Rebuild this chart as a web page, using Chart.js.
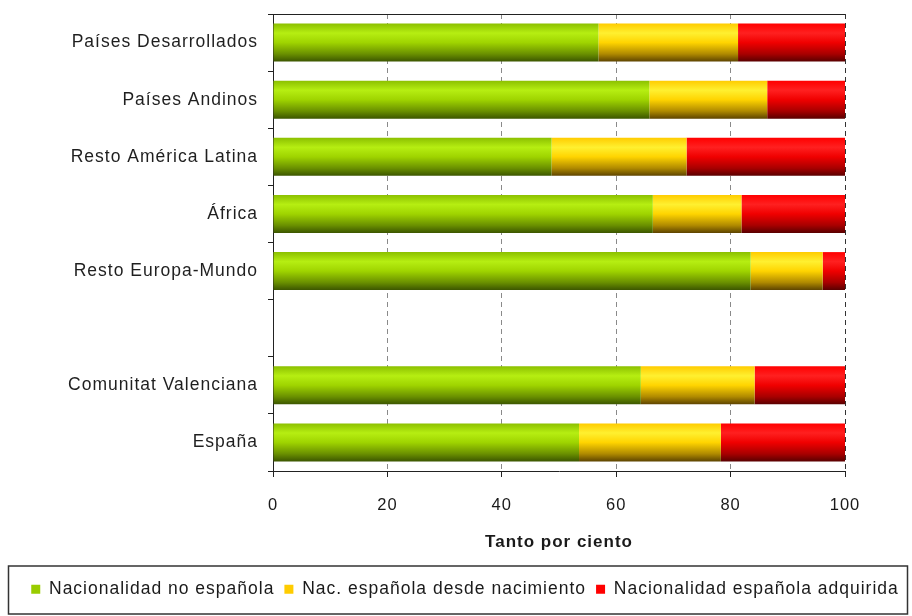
<!DOCTYPE html>
<html><head><meta charset="utf-8">
<script src="https://cdn.jsdelivr.net/npm/chart.js@4/dist/chart.umd.min.js"></script>
<style>html,body{margin:0;padding:0;background:#fff}</style>
</head><body>
<canvas id="c" width="912" height="616"></canvas>
<script>
const categories = ['Países Desarrollados','Países Andinos','Resto América Latina','África','Resto Europa-Mundo','','Comunitat Valenciana','España'];
const seriesNames = ['Nacionalidad no española','Nac. española desde nacimiento','Nacionalidad española adquirida'];
const nacNoEspanola      = [56.9, 65.8, 48.7, 66.4, 83.5, null, 64.3, 53.5];
const nacDesdeNacimiento = [24.4, 20.6, 23.6, 15.5, 12.6, null, 19.9, 24.8];
const nacAdquirida       = [18.7, 13.6, 27.7, 18.1,  3.9, null, 15.8, 21.7];
const xTicks = [0, 20, 40, 60, 80, 100];
const axisTitle = 'Tanto por ciento';

const solidColors = ['#99cc00', '#ffcc00', '#ff0000'];
const gradientStops = [
  [[0,'#8cc000'],[0.25,'#b6ee12'],[0.5,'#9fd400'],[0.8,'#6a9000'],[1,'#3c5600']],
  [[0,'#ffcc00'],[0.25,'#fff030'],[0.5,'#ffd400'],[0.8,'#b08a00'],[1,'#5e4400']],
  [[0,'#ff0000'],[0.25,'#ff2020'],[0.5,'#f00000'],[0.8,'#a80000'],[1,'#5a0000']]
];

const FONT = 'Liberation Sans, Arial, sans-serif';
const SPACING = '1px';

const spacingPlugin = {
  id: 'spacing',
  beforeUpdate(chart){ chart.ctx.letterSpacing = SPACING; },
  beforeLayout(chart){ chart.ctx.letterSpacing = SPACING; },
  beforeDraw(chart){ chart.ctx.letterSpacing = SPACING; }
};

const gradientPlugin = {
  id: 'barGradient',
  beforeDatasetsDraw(chart){
    const ctx = chart.ctx;
    chart.data.datasets.forEach((ds, di) => {
      const meta = chart.getDatasetMeta(di);
      meta.data.forEach(el => {
        if (!el || el.height == null || isNaN(el.y)) return;
        const g = ctx.createLinearGradient(0, el.y - el.height/2, 0, el.y + el.height/2);
        gradientStops[di].forEach(s => g.addColorStop(s[0], s[1]));
        el.options = Object.assign({}, el.options, {backgroundColor: g});
      });
    });
  }
};

const framePlugin = {
  id: 'frame',
  afterDraw(chart){
    const ctx = chart.ctx, a = chart.chartArea, lg = chart.legend;
    ctx.save();
    ctx.strokeStyle = '#222';
    ctx.lineWidth = 1;
    ctx.beginPath();
    ctx.moveTo(a.left, Math.round(a.top) + 0.5);
    ctx.lineTo(a.right, Math.round(a.top) + 0.5);
    ctx.stroke();
    ctx.strokeStyle = '#333';
    ctx.lineWidth = 1.5;
    ctx.strokeRect(8.5, Math.round(lg.top) - 5, chart.width - 13, Math.round(lg.bottom) - Math.round(lg.top) + 11);
    ctx.restore();
  }
};

new Chart(document.getElementById('c'), {
  type: 'bar',
  data: {
    labels: categories,
    datasets: [
      {label: seriesNames[0], data: nacNoEspanola, backgroundColor: solidColors[0]},
      {label: seriesNames[1], data: nacDesdeNacimiento, backgroundColor: solidColors[1]},
      {label: seriesNames[2], data: nacAdquirida, backgroundColor: solidColors[2]}
    ]
  },
  plugins: [spacingPlugin, gradientPlugin, framePlugin],
  options: {
    indexAxis: 'y',
    responsive: false,
    animation: false,
    devicePixelRatio: 1,
    layout: {padding: {top: 14, left: 18, right: 0, bottom: 8}},
    datasets: {bar: {barPercentage: 0.664, categoryPercentage: 1, borderWidth: 0}},
    plugins: {
      tooltip: {enabled: false},
      legend: {
        position: 'bottom',
        labels: {
          boxWidth: 9, boxHeight: 9, padding: 10,
          color: '#1a1a1a',
          font: {family: FONT, size: 17.5}
        }
      }
    },
    scales: {
      x: {
        stacked: true,
        min: 0, max: 100,
        afterBuildTicks(s){ s.ticks = xTicks.map(v => ({value: v})); },
        afterFit(s){ s.height = 99.5; s.paddingRight = 67; },
        ticks: {color: '#1a1a1a', padding: 19, font: {family: FONT, size: 16.5}, maxRotation: 0},
        grid: {
          color: ctx => (ctx.tick && ctx.tick.value === 100) ? '#333' : '#8a8a8a',
          lineWidth: 1,
          tickLength: 6,
          tickColor: '#222'
        },
        border: {display: true, color: '#222', width: 1, dash: [5, 4]},
        title: {display: true, text: axisTitle, color: '#1a1a1a',
                font: {family: FONT, size: 17, weight: 'bold'}, padding: {top: 4, bottom: 18}}
      },
      y: {
        stacked: true,
        afterFit(s){ s.width = 255; s.paddingTop = 0; s.paddingBottom = 0; },
        ticks: {color: '#1f1f1f', padding: 10, font: {family: FONT, size: 17.5}, autoSkip: false},
        grid: {offset: true, drawOnChartArea: false, tickLength: 5, tickColor: '#222'},
        border: {display: true, color: '#222', width: 1}
      }
    }
  }
});
</script>
</body></html>
